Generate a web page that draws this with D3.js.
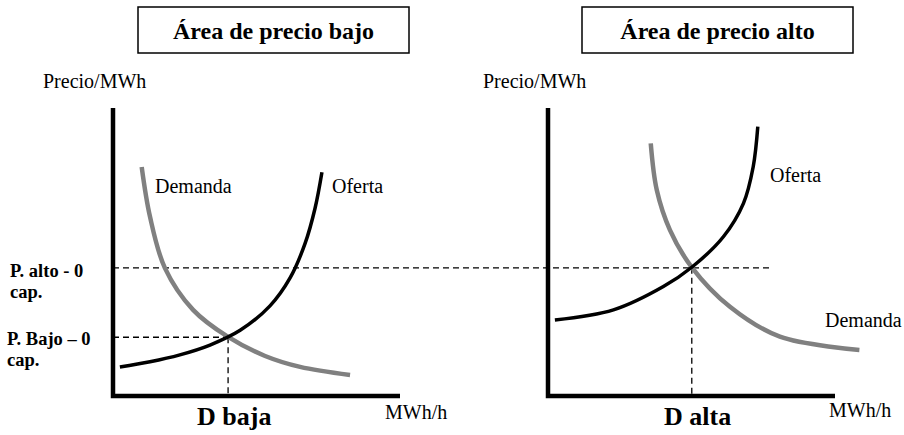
<!DOCTYPE html>
<html>
<head>
<meta charset="utf-8">
<script src="https://cdn.jsdelivr.net/npm/d3@7"></script>
<style>
  body { margin: 0; background: #fff; }
  svg { display: block; }
  text { font-family: "Liberation Serif", "Times New Roman", serif; fill: #000; }
</style>
</head>
<body>
<div id="chart"></div>
<script>
// panels
const panels = ['bajo', 'alto'];
const panelTitles = ['Área de precio bajo', 'Área de precio alto'];
const demandLabels = ['D baja', 'D alta'];

// curves, in quantity (0-100) / price (0-100) units
const supplyBajoQ = [2.4, 12.9, 23.3, 33.8, 44.3, 54.7, 61.7, 66.9, 70.4, 72.8];
const supplyBajoP = [10.1, 11.9, 14.3, 17.7, 22.8, 31.3, 41.0, 52.9, 65.2, 77.7];
const demandBajoQ = [10.0, 12.9, 18.1, 27.9, 40.1, 53.0, 65.2, 82.6];
const demandBajoP = [79.5, 62.2, 44.4, 29.9, 20.5, 13.9, 10.1, 7.3];

const supplyAltoQ = [2.4, 22.8, 40.2, 50.1, 61.1, 68.1, 71.5, 73.1];
const supplyAltoP = [26.4, 29.9, 38.0, 44.7, 55.3, 66.9, 79.6, 93.5];
const demandAltoQ = [35.8, 37.9, 42.5, 50.1, 63.4, 80.8, 108.5];
const demandAltoP = [87.7, 71.5, 57.6, 44.7, 31.0, 20.6, 16.0];

// equilibria
const priceAlto = 44.5;
const priceBajo = 20.4;
const qtyBaja = 40.1;
const qtyAlta = 50.1;
const altoLineEnd = 78; // where the dashed high-price line stops in the right panel

const width = 904;
const height = 435;
const svg = d3.select('#chart').append('svg').attr('width', width).attr('height', height);

function label(g, str, x, y, size, bold, anchor) {
  return g.append('text')
    .attr('x', x)
    .attr('y', y)
    .attr('text-anchor', anchor || 'start')
    .style('font-size', size + 'px')
    .style('font-weight', bold ? 'bold' : 'normal')
    .text(str);
}

const y = d3.scaleLinear().domain([0, 100]).range([396, 108]);
const xs = [
  d3.scaleLinear().domain([0, 100]).range([113, 400]),
  d3.scaleLinear().domain([0, 100]).range([548, 835])
];

const curves = [
  { supply: d3.zip(supplyBajoQ, supplyBajoP), demand: d3.zip(demandBajoQ, demandBajoP), p: priceBajo, q: qtyBaja },
  { supply: d3.zip(supplyAltoQ, supplyAltoP), demand: d3.zip(demandAltoQ, demandAltoP), p: priceAlto, q: qtyAlta }
];

// dashed reference lines
const dash = svg.append('g')
  .attr('fill', 'none')
  .attr('stroke', '#000')
  .attr('stroke-width', 1.3)
  .attr('stroke-dasharray', '6,4');

dash.append('line')
  .attr('x1', xs[0](0)).attr('x2', xs[1](altoLineEnd))
  .attr('y1', y(priceAlto)).attr('y2', y(priceAlto));

dash.append('line')
  .attr('x1', xs[0](0)).attr('x2', xs[0](qtyBaja))
  .attr('y1', y(priceBajo)).attr('y2', y(priceBajo));

curves.forEach((c, i) => {
  dash.append('line')
    .attr('x1', xs[i](c.q)).attr('x2', xs[i](c.q))
    .attr('y1', y(c.p)).attr('y2', y(0));
});

panels.forEach((name, i) => {
  const x = xs[i];
  const g = svg.append('g').attr('class', 'panel-' + name);

  const line = d3.line()
    .x((d) => x(d[0]))
    .y((d) => y(d[1]))
    .curve(d3.curveCatmullRom.alpha(0.5));

  g.append('path')
    .datum(curves[i].demand)
    .attr('d', line)
    .attr('fill', 'none')
    .attr('stroke', '#808080')
    .attr('stroke-width', 4.5);

  g.append('path')
    .datum(curves[i].supply)
    .attr('d', line)
    .attr('fill', 'none')
    .attr('stroke', '#000')
    .attr('stroke-width', 3.5);

  // axes
  g.append('path')
    .datum([[0, 100], [0, 0], [100, 0]])
    .attr('d', d3.line().x((d) => x(d[0])).y((d) => y(d[1])))
    .attr('fill', 'none')
    .attr('stroke', '#000')
    .attr('stroke-width', 4.5)
    .attr('stroke-linejoin', 'miter');

  // title box
  g.append('rect')
    .attr('x', [138, 582][i]).attr('y', 7)
    .attr('width', 271).attr('height', 46)
    .attr('fill', 'none').attr('stroke', '#000').attr('stroke-width', 1.5);
  label(g, panelTitles[i], [273.5, 717.5][i], 39, 24, true, 'middle');

  label(g, 'Precio/MWh', [43, 483][i], 88, 20, false);
  label(g, 'MWh/h', [385, 829][i], [419, 417][i], 20, false);
  label(g, demandLabels[i], [197, 664][i], 425, 26, true);
});

label(svg, 'Demanda', 155, 192.5, 20, false);
label(svg, 'Oferta', 332, 192.5, 20, false);
label(svg, 'Oferta', 770, 182, 20, false);
label(svg, 'Demanda', 825, 327, 20, false);

label(svg, 'P. alto - 0', 10, 277, 18.5, true);
label(svg, 'cap.', 10, 298, 18.5, true);
label(svg, 'P. Bajo – 0', 7, 345, 18.5, true);
label(svg, 'cap.', 7, 366, 18.5, true);
</script>
</body>
</html>
